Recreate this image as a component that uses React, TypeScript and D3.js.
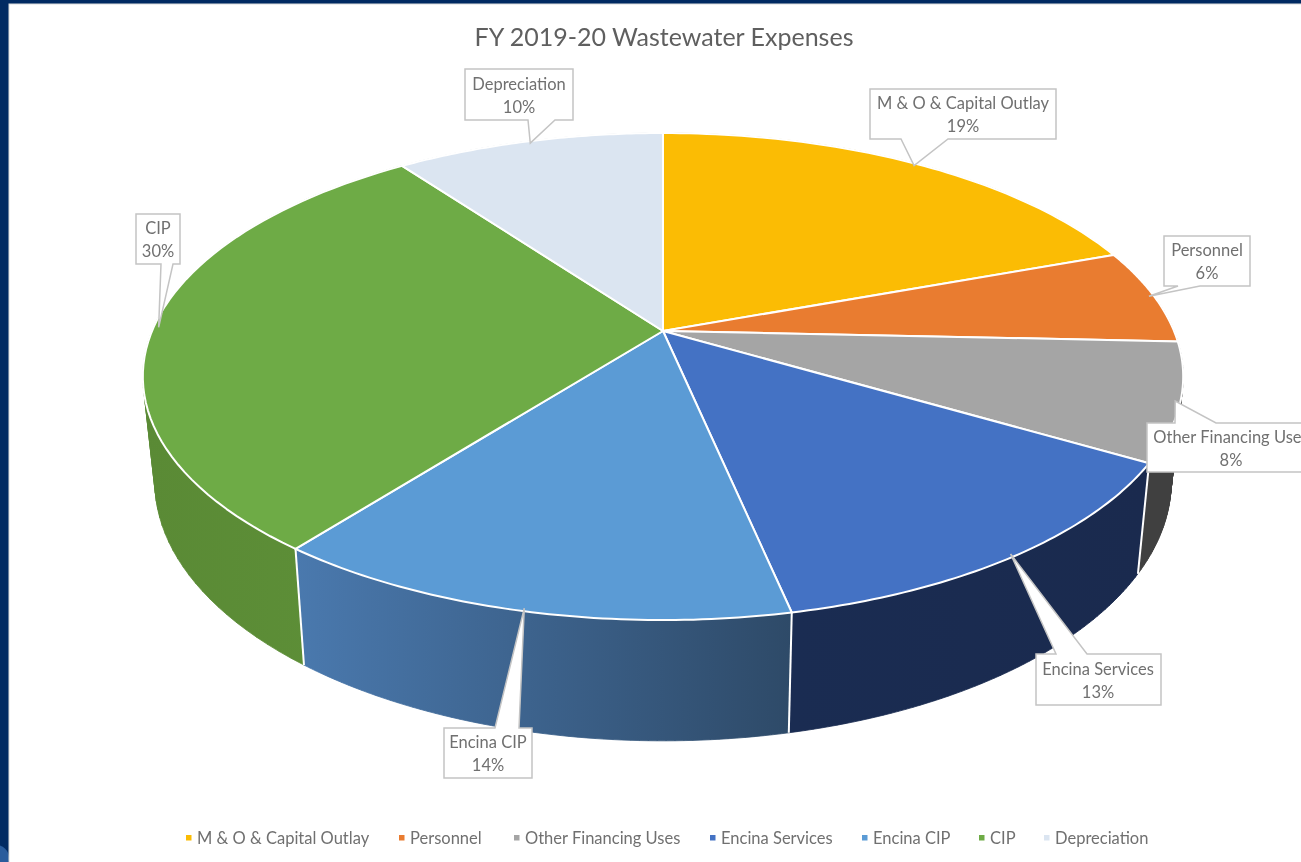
import React from "react";
import * as d3 from "d3";

// ---- data ----
const categories = ["M & O & Capital Outlay", "Personnel", "Other Financing Uses", "Encina Services", "Encina CIP", "CIP", "Depreciation"];
const shares = [19.4, 6.3, 7.8, 13.2, 13.8, 29.5, 10.0];
const percentLabels = ["19%", "6%", "8%", "13%", "14%", "30%", "10%"];
const topColors = ["#FBBC04", "#E97C30", "#A5A5A5", "#4472C4", "#5B9BD5", "#6EAB46", "#DBE5F1"];
const wallStart = ["#B58900", "#A85820", "#404040", "#1A2C52", "#4A79AE", "#5A8A35", "#9FA9B5"];
const wallEnd = ["#B58900", "#A85820", "#404040", "#1A2A4E", "#2E4A68", "#5E9038", "#9FA9B5"];

// ---- layout ----
const W = 1301, H = 862;
const APEX = { x: 663, y: 331 };
const TILT = -0.187, RX = 511, RY = 235;
const WALL = { sx: 0.977, sy: 1.065, drop: 102 };
const FONT = "Lato, 'Open Sans', sans-serif";
const TEXT = "#707070";
const BORDER = "#c4c4c4";
const TIP_INSET = 0.99;
// callout box: x0,y0,x1,y1; pointer base a..b along the edge named by side
const boxes = [
  { x0: 870, y0: 89, x1: 1056, y1: 139, a: 901, b: 948, side: "bottom" },
  { x0: 1164, y0: 236, x1: 1250, y1: 286, a: 1178, b: 1200, side: "bottom" },
  { x0: 1147, y0: 423, x1: 1320, y1: 472, a: 1175, b: 1216, side: "top" },
  { x0: 1036, y0: 654, x1: 1161, y1: 705, a: 1056, b: 1087, side: "top" },
  { x0: 444, y0: 728, x1: 532, y1: 778, a: 495, b: 519, side: "top" },
  { x0: 136, y0: 214, x1: 180, y1: 264, a: 161, b: 173, side: "bottom" },
  { x0: 465, y0: 69, x1: 573, y1: 120, a: 528, b: 555, side: "bottom" },
];
const labelCenters = [963, 1207, 1231, 1098, 488, 158, 519];
const legendX = [186, 399, 514, 710, 862, 979, 1044];

function rim(theta: number) {
  const u = Math.sin(theta), v = -Math.cos(theta);
  const d = 1 + TILT * v;
  return [APEX.x + (RX * u) / d, APEX.y + (RY * v) / d] as [number, number];
}
function rimBottom(theta: number) {
  const [x, y] = rim(theta);
  return [APEX.x + WALL.sx * (x - APEX.x), APEX.y + WALL.drop + WALL.sy * (y - APEX.y)] as [number, number];
}
const line = d3.line();
const pie = d3.pie<number>().sort(null)(shares);
const samples = (a: number, b: number) => d3.range(0, 61).map((i) => d3.interpolateNumber(a, b)(i / 60));

// one wall facet, always wound the same way so overlapping facets never cancel out
function facet(a: number, b: number) {
  const pts: [number, number][] = [rim(a), rim(b), rimBottom(b), rimBottom(a)];
  if (d3.polygonArea(pts) < 0) pts.reverse();
  return line(pts) + "Z";
}

function calloutPath(i: number, tip: [number, number]) {
  const b = boxes[i];
  const pts: [number, number][] =
    b.side === "top"
      ? [[b.x0, b.y0], [b.a, b.y0], tip, [b.b, b.y0], [b.x1, b.y0], [b.x1, b.y1], [b.x0, b.y1]]
      : [[b.x0, b.y0], [b.x1, b.y0], [b.x1, b.y1], [b.b, b.y1], tip, [b.a, b.y1], [b.x0, b.y1]];
  return line(pts) + "Z";
}

export default function App() {
  return (
    <svg width={W} height={H} viewBox={`0 0 ${W} ${H}`} style={{ position: "absolute", left: 0, top: 0, display: "block", filter: "blur(0.4px)" }}>
      <defs>
        {pie.map((s, i) => {
          const xs = samples(s.startAngle, s.endAngle).map(rim).map((p) => p[0]);
          return (
            <linearGradient key={i} id={`wall${i}`} gradientUnits="userSpaceOnUse" x1={d3.min(xs)} x2={d3.max(xs)} y1={0} y2={0}>
              <stop offset="0" stopColor={wallStart[i]} />
              <stop offset="1" stopColor={wallEnd[i]} />
            </linearGradient>
          );
        })}
      </defs>
      <rect width={W} height={H} fill="#012A62" />
      <circle cx={-4} cy={858} r={13} fill="#2A5C9C" />
      <rect x={9} y={4} width={W} height={H} fill="#ffffff" stroke="#dcdcdc" strokeWidth={1} />

      <text x={664} y={46} textAnchor="middle" fontFamily={FONT} fontSize={25} fill="#5f5f5f">FY 2019-20 Wastewater Expenses</text>

      {pie.map((s, i) => {
        const th = samples(s.startAngle, s.endAngle);
        const d = d3.pairs(th).map(([a, b]) => facet(a, b)).join("");
        return <path key={i} d={d} fill={`url(#wall${i})`} stroke={`url(#wall${i})`} strokeWidth={0.8} />;
      })}
      {pie.map((s, i) => (
        <path key={i} d={line([rim(s.startAngle), rimBottom(s.startAngle)]) ?? ""} fill="none" stroke="#ffffff" strokeWidth={2} />
      ))}
      {pie.map((s, i) => {
        const path = line([[APEX.x, APEX.y], ...samples(s.startAngle, s.endAngle).map(rim)]) + "Z";
        return <path key={i} d={path} fill={topColors[i]} stroke="#ffffff" strokeWidth={2} strokeLinejoin="round" />;
      })}

      {pie.map((s, i) => {
        const [rx, ry] = rim((s.startAngle + s.endAngle) / 2);
        const tip: [number, number] = [APEX.x + TIP_INSET * (rx - APEX.x), APEX.y + TIP_INSET * (ry - APEX.y)];
        const b = boxes[i];
        const cy = (b.y0 + b.y1) / 2;
        return (
          <g key={i}>
            <path d={calloutPath(i, tip)} fill="#ffffff" stroke={BORDER} strokeWidth={1.5} strokeLinejoin="miter" />
            <text x={labelCenters[i]} y={cy - 5} textAnchor="middle" fontFamily={FONT} fontSize={16.5} fill={TEXT}>{categories[i]}</text>
            <text x={labelCenters[i]} y={cy + 18} textAnchor="middle" fontFamily={FONT} fontSize={16.5} fill={TEXT}>{percentLabels[i]}</text>
          </g>
        );
      })}

      {categories.map((c, i) => (
        <g key={c}>
          <rect x={legendX[i]} y={835} width={5.5} height={5.5} fill={topColors[i]} />
          <text x={legendX[i] + 11} y={844} fontFamily={FONT} fontSize={16.5} fill={TEXT}>{c}</text>
        </g>
      ))}
    </svg>
  );
}
